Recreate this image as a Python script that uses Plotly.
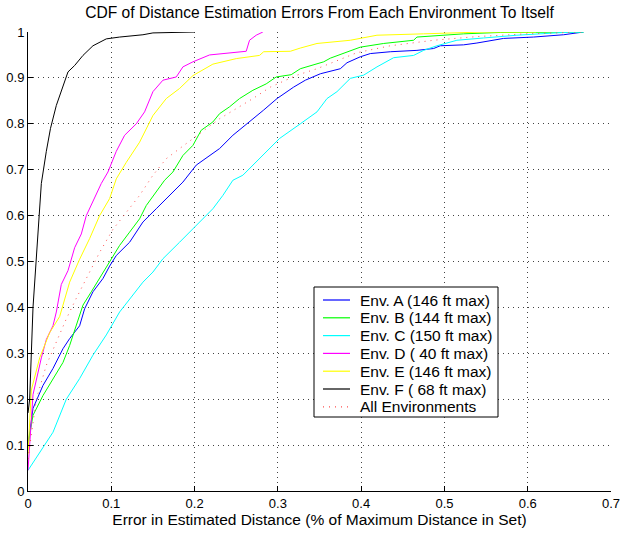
import plotly.graph_objects as go

# Env A (blue)
a_x = [0, 0.006, 0.018, 0.03, 0.042, 0.05, 0.062, 0.068, 0.078, 0.09, 0.098, 0.106, 0.122, 0.138, 0.154, 0.17, 0.186, 0.202, 0.218, 0.23, 0.246, 0.266, 0.283, 0.299, 0.319, 0.333, 0.351, 0.375, 0.383, 0.399, 0.411, 0.435, 0.467, 0.487, 0.495, 0.523, 0.539, 0.571, 0.607, 0.643, 0.667]
a_y = [0.10, 0.18, 0.23, 0.267, 0.31, 0.332, 0.36, 0.397, 0.434, 0.463, 0.49, 0.513, 0.542, 0.586, 0.615, 0.644, 0.673, 0.71, 0.731, 0.746, 0.775, 0.804, 0.83, 0.855, 0.88, 0.895, 0.909, 0.92, 0.933, 0.946, 0.953, 0.957, 0.96, 0.964, 0.97, 0.972, 0.976, 0.986, 0.989, 0.994, 1.0]

# Env B (green)
b_x = [0, 0.006, 0.018, 0.03, 0.042, 0.05, 0.058, 0.066, 0.076, 0.088, 0.098, 0.11, 0.122, 0.134, 0.142, 0.154, 0.164, 0.174, 0.186, 0.198, 0.208, 0.222, 0.23, 0.242, 0.254, 0.27, 0.286, 0.298, 0.316, 0.327, 0.335, 0.355, 0.363, 0.379, 0.399, 0.427, 0.463, 0.467, 0.499, 0.523, 0.567, 0.667]
b_y = [0.10, 0.165, 0.208, 0.245, 0.28, 0.317, 0.36, 0.405, 0.434, 0.47, 0.50, 0.535, 0.564, 0.593, 0.622, 0.651, 0.677, 0.695, 0.731, 0.753, 0.786, 0.804, 0.822, 0.837, 0.855, 0.873, 0.887, 0.902, 0.907, 0.92, 0.924, 0.935, 0.943, 0.953, 0.967, 0.975, 0.982, 0.989, 0.993, 0.996, 0.999, 1.0]

# Env C (cyan)
c_x = [0, 0.014, 0.03, 0.046, 0.062, 0.078, 0.094, 0.11, 0.126, 0.138, 0.15, 0.162, 0.182, 0.202, 0.222, 0.234, 0.246, 0.258, 0.27, 0.286, 0.302, 0.327, 0.347, 0.359, 0.371, 0.387, 0.403, 0.419, 0.439, 0.463, 0.475, 0.491, 0.515, 0.547, 0.587, 0.643, 0.667]
c_y = [0.045, 0.085, 0.128, 0.20, 0.245, 0.296, 0.34, 0.39, 0.426, 0.455, 0.477, 0.506, 0.542, 0.579, 0.615, 0.644, 0.677, 0.688, 0.71, 0.739, 0.768, 0.80, 0.826, 0.855, 0.87, 0.899, 0.906, 0.924, 0.944, 0.949, 0.96, 0.97, 0.982, 0.987, 0.993, 0.999, 1.0]

# Env D (magenta)
d_x = [0, 0.006, 0.016, 0.022, 0.03, 0.034, 0.04, 0.048, 0.056, 0.064, 0.07, 0.08, 0.088, 0.096, 0.106, 0.116, 0.13, 0.14, 0.15, 0.162, 0.178, 0.186, 0.198, 0.218, 0.262, 0.266, 0.274, 0.282]
d_y = [0.045, 0.21, 0.29, 0.33, 0.36, 0.39, 0.45, 0.48, 0.53, 0.56, 0.60, 0.64, 0.67, 0.695, 0.74, 0.775, 0.80, 0.826, 0.87, 0.895, 0.902, 0.924, 0.935, 0.95, 0.958, 0.982, 0.993, 1.0]

# Env E (yellow)
e_x = [0, 0.004, 0.014, 0.026, 0.038, 0.05, 0.062, 0.074, 0.086, 0.098, 0.106, 0.118, 0.134, 0.15, 0.166, 0.182, 0.198, 0.222, 0.25, 0.278, 0.283, 0.315, 0.327, 0.347, 0.387, 0.419, 0.475, 0.547, 0.61]
e_y = [0.08, 0.22, 0.29, 0.345, 0.38, 0.455, 0.505, 0.55, 0.60, 0.637, 0.68, 0.716, 0.76, 0.818, 0.855, 0.877, 0.905, 0.93, 0.942, 0.949, 0.957, 0.958, 0.965, 0.975, 0.982, 0.993, 0.996, 1.0, 1.0]

# Env F (black)
f_x = [0, 0.002, 0.006, 0.012, 0.016, 0.022, 0.027, 0.034, 0.04, 0.048, 0.056, 0.066, 0.078, 0.094, 0.11, 0.138, 0.15, 0.2]
f_y = [0.17, 0.20, 0.40, 0.56, 0.67, 0.74, 0.79, 0.84, 0.87, 0.913, 0.927, 0.949, 0.97, 0.985, 0.989, 0.994, 0.998, 1.0]

# All environments (red dotted)
all_x = [0, 0.01, 0.022, 0.034, 0.046, 0.058, 0.07, 0.086, 0.102, 0.118, 0.134, 0.15, 0.166, 0.182, 0.198, 0.214, 0.23, 0.25, 0.27, 0.291, 0.323, 0.347, 0.371, 0.395, 0.435, 0.487, 0.539, 0.599, 0.667]
all_y = [0.07, 0.20, 0.274, 0.325, 0.375, 0.42, 0.463, 0.52, 0.57, 0.608, 0.644, 0.688, 0.724, 0.746, 0.768, 0.79, 0.811, 0.833, 0.855, 0.88, 0.906, 0.92, 0.938, 0.955, 0.97, 0.982, 0.99, 0.996, 1.0]

names = ["Env. A (146 ft max)", "Env. B (144 ft max)", "Env. C (150 ft max)",
         "Env. D ( 40 ft max)", "Env. E (146 ft max)", "Env. F ( 68 ft max)",
         "All Environments"]

series = [(a_x, a_y, "#0000ff", "solid"), (b_x, b_y, "#00ff00", "solid"),
          (c_x, c_y, "#00ffff", "solid"), (d_x, d_y, "#ff00ff", "solid"),
          (e_x, e_y, "#ffff00", "solid"), (f_x, f_y, "#000000", "solid"),
          (all_x, all_y, "#ff5050", "1px,5px")]

FONT_FAMILY = "Liberation Sans, Arial, Helvetica, sans-serif"

fig = go.Figure()
for (xs, ys, col, dash), nm in zip(series, names):
    fig.add_trace(go.Scatter(x=xs, y=ys, mode="lines", name=nm, showlegend=False,
                             line=dict(color=col, width=1, dash=dash)))

# Manual legend box (paper coordinates) to match the reference's compact layout
W, H = 622, 535
L, R, T, B = 28, 11, 32, 44
pw, ph = W - L - R, H - T - B


def px2x(px):
    return (px - L) / pw


def py2y(py):
    return (H - B - py) / ph


shapes = [dict(type="rect", xref="paper", yref="paper",
               x0=px2x(314), x1=px2x(498), y0=py2y(417), y1=py2y(287),
               line=dict(color="black", width=1), fillcolor="white", layer="above")]
annotations = []
for i, ((xs, ys, col, dash), nm) in enumerate(zip(series, names)):
    yy = py2y(300 + 17.8 * i)
    shapes.append(dict(type="line", xref="paper", yref="paper",
                       x0=px2x(323), x1=px2x(350), y0=yy, y1=yy, layer="above",
                       line=dict(color=col, width=1.2, dash=dash)))
    annotations.append(dict(xref="paper", yref="paper", x=px2x(358), y=yy,
                            xanchor="left", yanchor="middle", showarrow=False,
                            text=nm, font=dict(family=FONT_FAMILY, size=15.5, color="black")))

font = dict(family=FONT_FAMILY, size=13, color="black")
axis_common = dict(showgrid=True, gridcolor="#444444", griddash="1px,4px", gridwidth=1,
                   ticks="inside", ticklen=5, tickcolor="black", tickwidth=1,
                   showline=True, linecolor="black", linewidth=1, mirror=False,
                   zeroline=False, tickfont=font, automargin=False)

fig.update_layout(
    width=W, height=H,
    margin=dict(l=L, r=R, t=T, b=B),
    paper_bgcolor="white", plot_bgcolor="white",
    font=font,
    title=dict(text="CDF of Distance Estimation Errors From Each Environment To Itself",
               x=0.5, xref="paper", xanchor="center", y=1 - 13 / H, yanchor="middle",
               font=dict(family=FONT_FAMILY, size=15.6, color="black")),
    xaxis=dict(range=[0, 0.7], tick0=0, dtick=0.1, **axis_common,
               title=dict(text="Error in Estimated Distance (% of Maximum Distance in Set)",
                          font=dict(family=FONT_FAMILY, size=15.5, color="black"), standoff=2)),
    yaxis=dict(range=[0, 1], tick0=0, dtick=0.1, **axis_common),
    shapes=shapes,
    annotations=annotations,
    showlegend=False,
)

fig.write_html("out.html")
